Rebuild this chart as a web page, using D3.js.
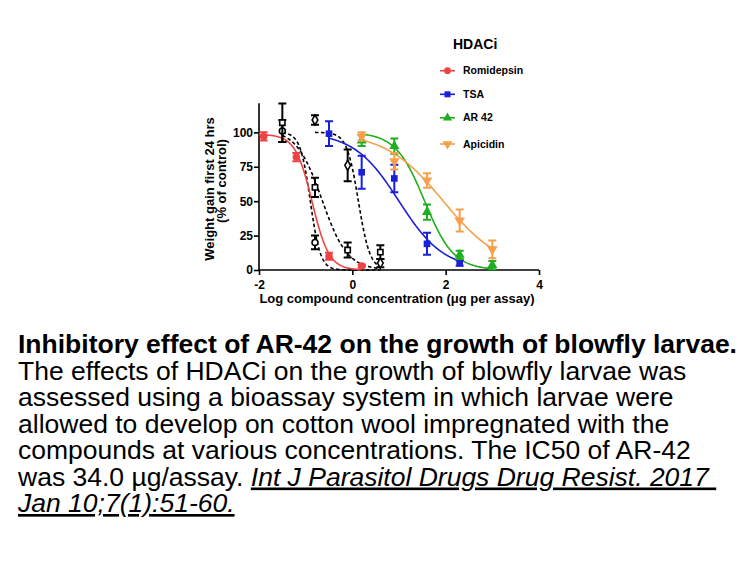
<!DOCTYPE html>
<html>
<head>
<meta charset="utf-8">
<script src="https://cdn.jsdelivr.net/npm/d3@7"></script>
<style>
  html, body { margin: 0; padding: 0; background: #fff; }
  svg { display: block; }
  text { font-family: "Liberation Sans", Arial, sans-serif; }
</style>
</head>
<body>
<svg id="chart" width="756" height="567"></svg>
<script>
// ---- Data ----
const xTicks = [-2, 0, 2, 4];
const yTicks = [0, 25, 50, 75, 100];

const legendTitle = "HDACi";
const seriesNames = ["Romidepsin", "TSA", "AR 42", "Apicidin"];
const seriesColors = ["#ef4343", "#1a1fd8", "#1fae1f", "#f7a04c"];

const romidepsinX = [-1.9, -1.2, -0.5, 0.2];
const romidepsinY = [97, 82, 10, 3];
const romidepsinErr = [3, 3, 2.5, 1];

const tsaX = [-0.5, 0.2, 0.9, 1.6, 2.3];
const tsaY = [99, 71, 66.5, 19, 5];
const tsaErr = [9, 12, 10, 8, 2];

const ar42X = [0.2, 0.9, 1.6, 2.3, 3.0];
const ar42Y = [94, 90, 42, 11, 3.5];
const ar42Err = [4, 5.5, 5.5, 3, 3];

const apicidinX = [0.2, 0.9, 1.6, 2.3, 3.0];
const apicidinY = [97, 79, 65, 36, 15];
const apicidinErr = [3, 6, 5.3, 8, 6.5];

// unlabelled black (control) series
const ctrlAX = [-1.5, -0.8];
const ctrlAY = [101, 20];
const ctrlAErr = [8, 5];

const ctrlBX = [-1.5, -0.8, -0.1, 0.6];
const ctrlBY = [107, 60, 14.5, 13];
const ctrlBErr = [14, 7, 5.5, 5];

const ctrlCX = [-0.8, -0.1, 0.6];
const ctrlCY = [109, 76, 5];
const ctrlCErr = [3.5, 11.5, 3];

// fitted sigmoid parameters: [top, bottom, logIC50, hill, xStart, xEnd]
const romidepsinFit = [98.5, 0, -0.86, 2.4, -2.0, 0.2];
const tsaFit = [100, 0, 1.0, 0.9, -0.5, 2.3];
const ar42Fit = [100, 0, 1.55, 1.4, 0.2, 3.0];
const apicidinFit = [100, 0, 1.95, 0.7, 0.2, 3.0];
const ctrlAFit = [100, 0, -0.9, 4, -1.5, 0.6];
const ctrlBFit = [102, 0, -0.65, 1.6, -1.5, 0.6];
const ctrlCFit = [100, 0, 0.13, 3.5, -0.8, 0.6];

const xLabel = "Log compound concentration (\u03bcg per assay)";
const yLabel1 = "Weight gain first 24 hrs";
const yLabel2 = "(% of control)";

const captionBold = "Inhibitory effect of AR-42 on the growth of blowfly larvae.";
const captionLines = [
  "The effects of HDACi on the growth of blowfly larvae was",
  "assessed using a bioassay system in which larvae were",
  "allowed to develop on cotton wool impregnated with the",
  "compounds at various concentrations. The IC50 of AR-42"
];
const captionLine6 = "was 34.0 \u00b5g/assay. ";
const citation1 = "Int J Parasitol Drugs Drug Resist. 2017 ";
const citation2 = "Jan 10;7(1):51-60.";

// ---- Drawing ----
const svg = d3.select("#chart");
const x = d3.scaleLinear().domain([-2, 4]).range([259, 539]);
const y = d3.scaleLinear().domain([0, 120]).range([270, 104.8]);

const g = svg.append("g");

function fitCurve(p) {
  const [top, bottom, ic, h, x0, x1] = p;
  const n = 120;
  return d3.range(n + 1).map(i => {
    const xv = x0 + (x1 - x0) * i / n;
    return [xv, bottom + (top - bottom) / (1 + Math.pow(10, (xv - ic) * h))];
  });
}
const line = d3.line().x(d => x(d[0])).y(d => y(d[1]));

// axes
const xAxis = g.append("g").attr("transform", `translate(0,${y(0)})`)
  .call(d3.axisBottom(x).tickValues(xTicks).tickSize(5).tickSizeOuter(0).tickFormat(d3.format("d")));
const yAxis = g.append("g").attr("transform", `translate(${x(-2)},0)`)
  .call(d3.axisLeft(y).tickValues(yTicks).tickSize(5).tickSizeOuter(0));
[xAxis, yAxis].forEach(a => {
  a.select(".domain").attr("stroke", "#000").attr("stroke-width", 1.6);
  a.selectAll(".tick line").attr("stroke", "#000").attr("stroke-width", 1.6);
  a.selectAll(".tick text").attr("fill", "#000").style("font-size", "12px").style("font-weight", "bold")
    .style("font-family", "'Liberation Sans', Arial, sans-serif");
});
yAxis.select(".domain").attr("d", `M0,${y(0)}V${y(120) - 1.5}`);
xAxis.select(".domain").attr("d", `M${x(-2)},0H${x(4)}`);
xAxis.selectAll(".tick text").attr("dy", "0.9em").text(d => d < 0 ? "-" + Math.abs(d) : d);
yAxis.selectAll(".tick text").attr("x", -6);

// axis titles
g.append("text").attr("x", 397).attr("y", 303).attr("text-anchor", "middle")
  .style("font-size", "13px").style("font-weight", "bold").text(xLabel);
g.append("text").attr("transform", "translate(214,189) rotate(-90)").attr("text-anchor", "middle")
  .style("font-size", "13px").style("font-weight", "bold").text(yLabel1);
g.append("text").attr("transform", "translate(226,181) rotate(-90)").attr("text-anchor", "middle")
  .style("font-size", "13px").style("font-weight", "bold").text(yLabel2);

// curves
const blackFits = [ctrlAFit, ctrlBFit, ctrlCFit];
blackFits.forEach(f => {
  g.append("path").attr("d", line(fitCurve(f))).attr("fill", "none")
    .attr("stroke", "#000").attr("stroke-width", 1.6).attr("stroke-dasharray", "3.5,2.5");
});
const colorFits = [romidepsinFit, tsaFit, ar42Fit, apicidinFit];
colorFits.forEach((f, i) => {
  g.append("path").attr("d", line(fitCurve(f))).attr("fill", "none")
    .attr("stroke", seriesColors[i]).attr("stroke-width", 1.6);
});

// error bars + markers
function drawSeries(xs, ys, es, color, shape, open) {
  const pts = xs.map((xv, i) => ({ x: xv, y: ys[i], e: es[i] }));
  const eb = g.append("g").attr("stroke", color).attr("stroke-width", 2).attr("fill", "none");
  pts.forEach(p => {
    const cx = x(p.x), y1 = y(p.y + p.e), y2 = y(Math.max(0, p.y - p.e));
    eb.append("path").attr("d", `M${cx},${y1}V${y2}M${cx - 4},${y1}H${cx + 4}M${cx - 4},${y2}H${cx + 4}`);
  });
  const sym = d3.symbol().type(shape).size(open ? 28 : 44);
  g.append("g").selectAll("path").data(pts).join("path")
    .attr("transform", d => `translate(${x(d.x)},${y(d.y)})` + (shape === "down" ? " rotate(180)" : ""))
    .attr("d", shape === "down" ? d3.symbol().type(d3.symbolTriangle).size(48)() : sym())
    .attr("fill", open ? "#fff" : color)
    .attr("stroke", open ? "#000" : "none")
    .attr("stroke-width", open ? 1.6 : 0);
}
drawSeries(ctrlAX, ctrlAY, ctrlAErr, "#000", d3.symbolCircle, true);
drawSeries(ctrlBX, ctrlBY, ctrlBErr, "#000", d3.symbolSquare, true);
drawSeries(ctrlCX, ctrlCY, ctrlCErr, "#000", d3.symbolDiamond, true);
drawSeries(romidepsinX, romidepsinY, romidepsinErr, seriesColors[0], d3.symbolCircle, false);
drawSeries(tsaX, tsaY, tsaErr, seriesColors[1], d3.symbolSquare, false);
drawSeries(ar42X, ar42Y, ar42Err, seriesColors[2], d3.symbolTriangle, false);
drawSeries(apicidinX, apicidinY, apicidinErr, seriesColors[3], "down", false);

// legend
const legend = svg.append("g");
legend.append("text").attr("x", 453).attr("y", 48.5).style("font-size", "14px").style("font-weight", "bold").text(legendTitle);
const legShapes = [d3.symbolCircle, d3.symbolSquare, d3.symbolTriangle, "down"];
const legY = [70.7, 94.3, 117.8, 144];
seriesNames.forEach((name, i) => {
  const ly = legY[i];
  legend.append("line").attr("x1", 440).attr("x2", 455).attr("y1", ly).attr("y2", ly)
    .attr("stroke", seriesColors[i]).attr("stroke-width", 1.6);
  const s = legShapes[i];
  legend.append("path")
    .attr("transform", `translate(447.5,${ly})` + (s === "down" ? " rotate(180)" : ""))
    .attr("d", d3.symbol().type(s === "down" ? d3.symbolTriangle : s).size(s === "down" ? 40 : 36)())
    .attr("fill", seriesColors[i]);
  legend.append("text").attr("x", 463).attr("y", ly + 3.6)
    .style("font-size", "10.5px").style("font-weight", "bold").text(name);
});

// caption
const cap = svg.append("g").style("font-size", "26.5px").attr("fill", "#000");
const baselines = [353, 379.5, 406, 432.5, 459, 485.5, 512];
cap.append("text").attr("x", 18).attr("y", baselines[0]).style("font-weight", "bold").text(captionBold);
captionLines.forEach((t, i) => {
  cap.append("text").attr("x", 18).attr("y", baselines[i + 1]).text(t);
});
const l6 = cap.append("text").attr("x", 18).attr("y", baselines[5]).style("white-space", "pre");
l6.append("tspan").text(captionLine6);
l6.append("tspan").style("font-style", "italic").style("text-decoration", "underline").text(citation1);
cap.append("text").attr("x", 18).attr("y", baselines[6]).style("font-style", "italic")
  .style("text-decoration", "underline").text(citation2);
</script>
</body>
</html>
